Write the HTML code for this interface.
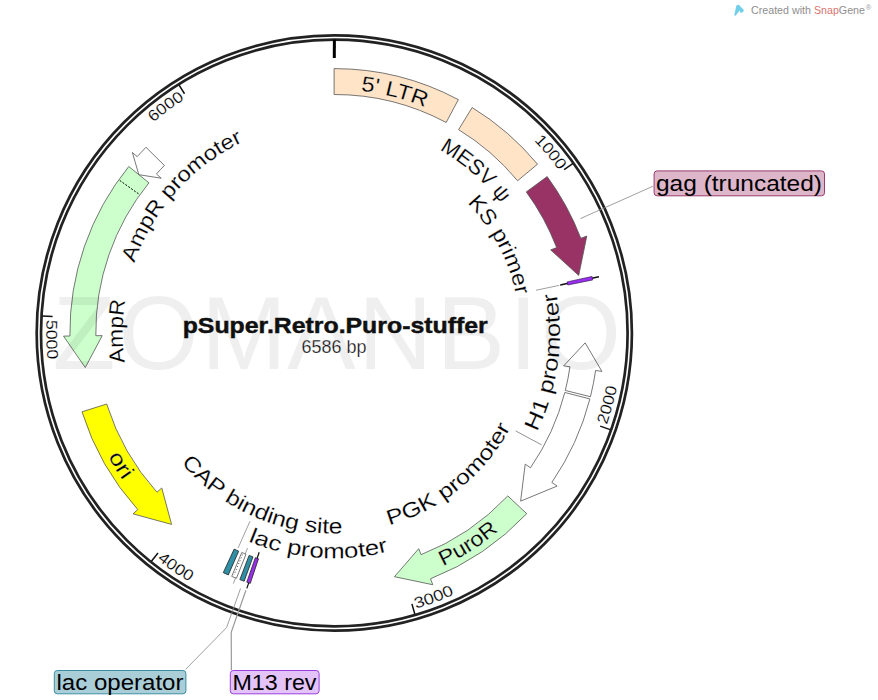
<!DOCTYPE html>
<html><head><meta charset="utf-8"><style>
html,body{margin:0;padding:0;background:#fff;width:878px;height:700px;overflow:hidden}
svg{display:block}
</style></head><body>
<svg width="878" height="700" viewBox="0 0 878 700" font-family='"Liberation Sans", sans-serif'><defs><path id="p_ltr" d="M360.76,90.96 A243.3,243.3 0 0 1 425.24,107.22"/><path id="p_mesv" d="M439.41,149.73 A211.2,211.2 0 0 1 501.21,203.65"/><path id="p_ks" d="M467.03,202.99 A185.8,185.8 0 0 1 516.01,295.00"/><path id="p_h1" d="M536.96,431.96 A225.8,225.8 0 0 0 556.36,292.97"/><path id="p_pgk" d="M389.34,525.33 A200.3,200.3 0 0 0 510.64,427.42"/><path id="p_puro" d="M442.97,566.26 A257.6,257.6 0 0 0 498.75,530.91"/><path id="p_lacp" d="M248.10,541.26 A225.5,225.5 0 0 0 388.42,551.66"/><path id="p_cap" d="M181.28,462.90 A200.7,200.7 0 0 0 342.47,533.33"/><path id="p_ori" d="M108.04,456.51 A257.7,257.7 0 0 0 122.88,480.43"/><path id="p_ampr" d="M124.89,362.46 A211.3,211.3 0 0 1 125.32,300.29"/><path id="p_amprp" d="M134.49,262.90 A211.5,211.5 0 0 1 242.98,141.94"/><path id="p_t1" d="M534.01,140.62 A277.3,277.3 0 0 1 558.92,170.47"/><path id="p_t2" d="M606.83,425.03 A287.9,287.9 0 0 0 616.92,386.67"/><path id="p_t3" d="M416.01,608.80 A287.9,287.9 0 0 0 454.40,594.36"/><path id="p_t4" d="M157.06,559.83 A287.9,287.9 0 0 0 189.55,581.78"/><path id="p_t5" d="M46.49,319.84 A287.9,287.9 0 0 0 47.47,359.79"/><path id="p_t6" d="M153.28,122.56 A277.3,277.3 0 0 1 184.54,99.29"/></defs>
<circle cx="334.3" cy="333.0" r="297.6" fill="none" stroke="#222" stroke-width="2.7"/>
<circle cx="334.3" cy="333.0" r="293.3" fill="none" stroke="#222" stroke-width="2.7"/>
<line x1="334.36" y1="39.80" x2="334.34" y2="58.00" stroke="#000" stroke-width="3" />
<line x1="572.71" y1="163.62" x2="564.14" y2="169.69" stroke="#111" stroke-width="1.5" />
<line x1="610.12" y1="429.59" x2="600.21" y2="426.11" stroke="#111" stroke-width="1.5" />
<line x1="414.80" y1="613.95" x2="411.90" y2="603.85" stroke="#111" stroke-width="1.5" />
<line x1="151.43" y1="561.25" x2="157.99" y2="553.05" stroke="#111" stroke-width="1.5" />
<line x1="42.09" y1="315.93" x2="52.57" y2="316.53" stroke="#111" stroke-width="1.5" />
<line x1="178.96" y1="84.83" x2="184.53" y2="93.73" stroke="#111" stroke-width="1.5" />
<path d="M334.10,68.60 A264.2,264.2 0 0 1 458.34,99.63 L446.16,122.49 A238.3,238.3 0 0 0 334.10,94.50 Z" fill="#FFE4C7" stroke="#555" stroke-width="0.8"/>
<path d="M472.14,107.53 A264.2,264.2 0 0 1 537.52,164.21 L517.58,180.74 A238.3,238.3 0 0 0 458.61,129.62 Z" fill="#FFE4C7" stroke="#555" stroke-width="0.8"/>
<path d="M547.16,176.58 A264.2,264.2 0 0 1 580.83,238.33 L586.81,236.05 L578.71,275.43 L550.67,249.88 L556.65,247.60 A238.3,238.3 0 0 0 526.28,191.89 Z" fill="#993366" stroke="#555" stroke-width="0.8"/>
<path d="M590.45,396.72 A264.2,264.2 0 0 0 595.60,370.48 L601.93,371.40 L585.15,342.88 L563.63,365.88 L569.96,366.79 A238.3,238.3 0 0 1 565.32,390.45 Z" fill="#FFFFFF" stroke="#555" stroke-width="0.8"/>
<path d="M589.88,398.95 A264.2,264.2 0 0 1 551.83,482.44 L557.11,486.07 L520.61,501.15 L525.21,464.15 L530.49,467.77 A238.3,238.3 0 0 0 564.81,392.47 Z" fill="#FFFFFF" stroke="#555" stroke-width="0.8"/>
<path d="M526.69,513.66 A264.2,264.2 0 0 1 430.50,578.78 L432.84,584.74 L394.46,576.69 L418.71,548.71 L421.05,554.67 A238.3,238.3 0 0 0 507.81,495.93 Z" fill="#CCFFCC" stroke="#555" stroke-width="0.8"/>
<path d="M81.99,411.81 A264.2,264.2 0 0 0 137.76,509.58 L133.01,513.87 L171.59,524.42 L161.76,487.97 L157.01,492.25 A238.3,238.3 0 0 1 106.70,404.06 Z" fill="#FFFF00" stroke="#555" stroke-width="0.8"/>
<path d="M128.78,166.53 A264.2,264.2 0 0 0 69.92,336.03 L63.52,336.11 L85.26,367.55 L102.22,335.63 L95.82,335.71 A238.3,238.3 0 0 1 148.91,182.83 Z" fill="#CCFFCC" stroke="#555" stroke-width="0.8"/>
<path d="M145.98,147.29 A264.2,264.2 0 0 0 137.15,156.70 L132.37,152.44 L138.84,174.68 L161.22,178.23 L156.45,173.97 A238.3,238.3 0 0 1 164.42,165.48 Z" fill="#FFFFFF" stroke="#555" stroke-width="0.8"/>
<line x1="138.47" y1="193.77" x2="119.31" y2="180.16" stroke="#000" stroke-width="1" stroke-dasharray="2,1.5"/>
<line x1="535.97" y1="290.26" x2="559.16" y2="285.37" stroke="#888" stroke-width="0.8" />
<line x1="515.61" y1="430.86" x2="541.56" y2="444.88" stroke="#777" stroke-width="0.8" />
<line x1="560.20" y1="284.99" x2="598.94" y2="276.80" stroke="#111" stroke-width="1.5" />
<path d="M592.02,276.47 A264,264 0 0 1 592.74,279.90 L567.76,285.01 A238.5,238.5 0 0 0 567.11,281.91 Z" fill="#9A2EF0" stroke="#3a1a5a" stroke-width="0.7"/>
<line x1="250.03" y1="521.19" x2="238.13" y2="547.86" stroke="#888" stroke-width="0.8" />
<path d="M228.33,574.90 A264.2,264.2 0 0 1 223.28,572.63 L234.14,549.12 A238.3,238.3 0 0 0 238.70,551.17 Z" fill="#2F8FA5" stroke="#222" stroke-width="0.8"/>
<line x1="247.57" y1="548.06" x2="233.28" y2="583.59" stroke="#888" stroke-width="0.8" />
<path d="M236.41,578.28 A264.2,264.2 0 0 1 231.72,576.36 L241.76,552.48 A238.3,238.3 0 0 0 245.99,554.21 Z" fill="#FFFFFF" stroke="#555" stroke-width="0.8"/>
<line x1="242.45" y1="554.61" x2="234.05" y2="574.94" stroke="#333" stroke-width="1.0" stroke-dasharray="0.9,2.2"/>
<path d="M244.17,581.22 A264.2,264.2 0 0 1 239.85,579.62 L249.09,555.42 A238.3,238.3 0 0 0 252.99,556.87 Z" fill="#2F8FA5" stroke="#222" stroke-width="0.8"/>
<line x1="259.18" y1="552.26" x2="246.83" y2="588.41" stroke="#111" stroke-width="1.2" />
<path d="M250.27,583.35 A264.2,264.2 0 0 1 246.78,582.15 L255.34,557.71 A238.3,238.3 0 0 0 258.49,558.79 Z" fill="#9A2EF0" stroke="#222" stroke-width="0.8"/>
<polyline points="580.4,218.6 653,186.2" fill="none" stroke="#888" stroke-width="0.8"/>
<polyline points="240.49,588.61 226.57,627.60 185.6,669.4" fill="none" stroke="#888" stroke-width="0.8"/>
<polyline points="245.93,590.32 231.20,632.32 231.4,670" fill="none" stroke="#999" stroke-width="1.2"/>
<text font-size="21.2" fill="#000" stroke="#fff" stroke-width="0.15"><textPath href="#p_ltr" textLength="66.71" lengthAdjust="spacingAndGlyphs">5' LTR</textPath></text>
<text font-size="21.2" fill="#000" stroke="#fff" stroke-width="0.15"><textPath href="#p_mesv" textLength="82.53" lengthAdjust="spacingAndGlyphs">MESV ψ</textPath></text>
<text font-size="21.2" fill="#000" stroke="#fff" stroke-width="0.15"><textPath href="#p_ks" textLength="105.65" lengthAdjust="spacingAndGlyphs">KS primer</textPath></text>
<text font-size="21.2" fill="#000" stroke="#fff" stroke-width="0.15"><textPath href="#p_h1" textLength="142.70" lengthAdjust="spacingAndGlyphs">H1 promoter</textPath></text>
<text font-size="21.2" fill="#000" stroke="#fff" stroke-width="0.15"><textPath href="#p_pgk" textLength="160.11" lengthAdjust="spacingAndGlyphs">PGK promoter</textPath></text>
<text font-size="21.2" fill="#000" stroke="#fff" stroke-width="0.15"><textPath href="#p_puro" textLength="66.23" lengthAdjust="spacingAndGlyphs">PuroR</textPath></text>
<text font-size="21.2" fill="#000" stroke="#fff" stroke-width="0.15"><textPath href="#p_lacp" textLength="143.10" lengthAdjust="spacingAndGlyphs">lac promoter</textPath></text>
<text font-size="21.2" fill="#000" stroke="#fff" stroke-width="0.15"><textPath href="#p_cap" textLength="182.08" lengthAdjust="spacingAndGlyphs">CAP binding site</textPath></text>
<text font-size="21.2" fill="#000" stroke="#fff" stroke-width="0.15"><textPath href="#p_ori" textLength="28.16" lengthAdjust="spacingAndGlyphs">ori</textPath></text>
<text font-size="21.2" fill="#000" stroke="#fff" stroke-width="0.15"><textPath href="#p_ampr" textLength="62.40" lengthAdjust="spacingAndGlyphs">AmpR</textPath></text>
<text font-size="21.2" fill="#000" stroke="#fff" stroke-width="0.15"><textPath href="#p_amprp" textLength="166.78" lengthAdjust="spacingAndGlyphs">AmpR promoter</textPath></text>
<text font-size="15.6" fill="#000" stroke="#fff" stroke-width="0.15"><textPath href="#p_t1" textLength="38.91" lengthAdjust="spacingAndGlyphs">1000</textPath></text>
<text font-size="15.6" fill="#000" stroke="#fff" stroke-width="0.15"><textPath href="#p_t2" textLength="39.70" lengthAdjust="spacingAndGlyphs">2000</textPath></text>
<text font-size="15.6" fill="#000" stroke="#fff" stroke-width="0.15"><textPath href="#p_t3" textLength="41.05" lengthAdjust="spacingAndGlyphs">3000</textPath></text>
<text font-size="15.6" fill="#000" stroke="#fff" stroke-width="0.15"><textPath href="#p_t4" textLength="39.24" lengthAdjust="spacingAndGlyphs">4000</textPath></text>
<text font-size="15.6" fill="#000" stroke="#fff" stroke-width="0.15"><textPath href="#p_t5" textLength="40.00" lengthAdjust="spacingAndGlyphs">5000</textPath></text>
<text font-size="15.6" fill="#000" stroke="#fff" stroke-width="0.15"><textPath href="#p_t6" textLength="39.01" lengthAdjust="spacingAndGlyphs">6000</textPath></text>
<text x="335.2" y="333.3" text-anchor="middle" font-size="22.3" font-weight="bold" fill="#111" stroke="#111" stroke-width="0.45" textLength="305" lengthAdjust="spacingAndGlyphs">pSuper.Retro.Puro-stuffer</text>
<text x="333.9" y="352.6" text-anchor="middle" font-size="17.6" fill="#111" stroke="#fff" stroke-width="0.25" textLength="65"  lengthAdjust="spacingAndGlyphs">6586 bp</text>
<rect x="654.1" y="170.9" width="170.4" height="24.9" rx="3" fill="#DDB6CA" stroke="#9B3B6E" stroke-width="1"/>
<text x="656" y="190.8" font-size="21.2" stroke="#000" stroke-width="0.0" textLength="166" lengthAdjust="spacingAndGlyphs">gag (truncated)</text>
<rect x="54.3" y="670.5" width="131.6" height="23.3" rx="3" fill="#A9CED8" stroke="#3C8FA3" stroke-width="1"/>
<text x="56.5" y="689.5" font-size="21.2" stroke="#000" stroke-width="0.0" textLength="127" lengthAdjust="spacingAndGlyphs">lac operator</text>
<rect x="230.3" y="670.5" width="88.8" height="23.3" rx="3" fill="#E3C3F8" stroke="#9A3FE0" stroke-width="1"/>
<text x="232.5" y="689.5" font-size="21.2" stroke="#000" stroke-width="0.0" textLength="84" lengthAdjust="spacingAndGlyphs">M13 rev</text>
<text x="52.4" y="369" font-size="103" fill="#000" fill-opacity="0.062">Z</text>
<text x="118.5" y="369" font-size="103" fill="#000" fill-opacity="0.062">O</text>
<text x="201" y="369" font-size="103" fill="#000" fill-opacity="0.062">M</text>
<text x="287" y="369" font-size="103" fill="#000" fill-opacity="0.062">A</text>
<text x="358" y="369" font-size="103" fill="#000" fill-opacity="0.062">N</text>
<text x="436.5" y="369" font-size="103" fill="#000" fill-opacity="0.062">B</text>
<text x="509" y="369" font-size="103" fill="#000" fill-opacity="0.062">I</text>
<text x="541" y="369" font-size="103" fill="#000" fill-opacity="0.062">O</text>
<path d="M734.2,15.2 L736.4,5.6 Q737.5,4.6 739.1,4.9 L744,10.3 L742.8,12.3 L740.3,13.1 L739.9,10.2 L735.6,15.7 Z" fill="#72CFEA"/>
<text x="751" y="14" font-size="11" fill="#8e8e8e" textLength="114" lengthAdjust="spacingAndGlyphs">Created with <tspan fill="#D9746E">Snap</tspan>Gene</text>
<text x="865.8" y="10.2" font-size="7.5" fill="#999">®</text>
</svg>
</body></html>
